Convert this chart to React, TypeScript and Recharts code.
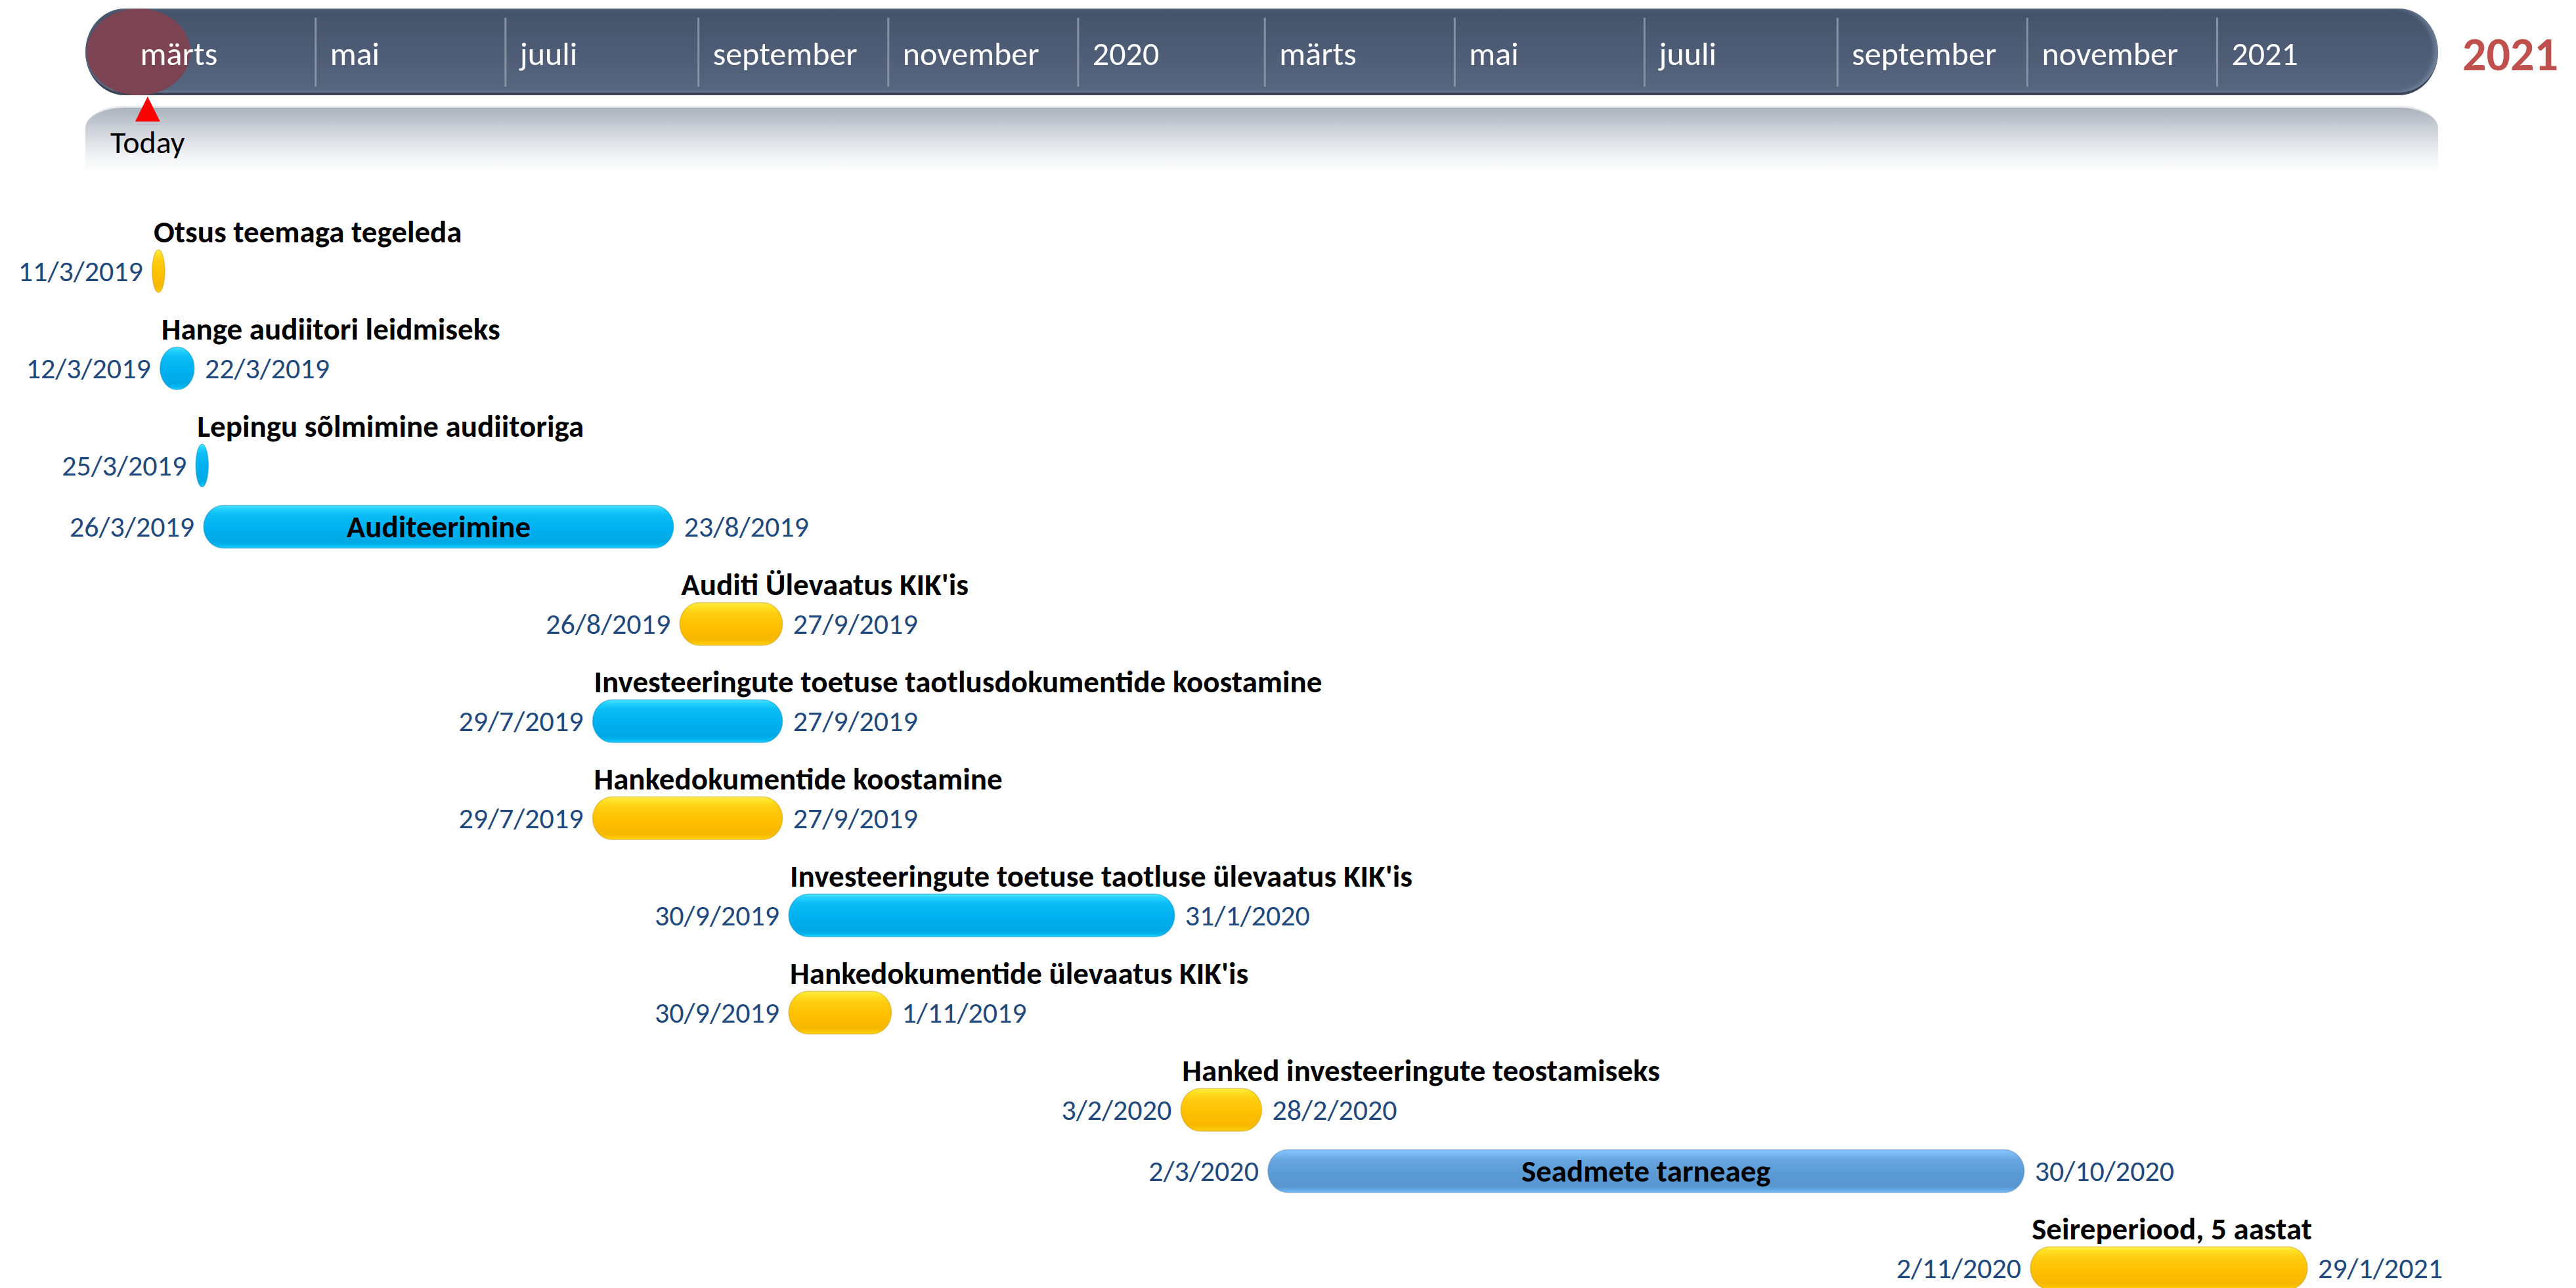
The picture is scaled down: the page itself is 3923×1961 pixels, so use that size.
import React from "react";
import { BarChart, Bar, XAxis, YAxis, ReferenceLine } from "recharts";

const TASK_NAMES = [
  "Otsus teemaga tegeleda",
  "Hange audiitori leidmiseks",
  "Lepingu sõlmimine audiitoriga",
  "Auditeerimine",
  "Auditi Ülevaatus KIK'is",
  "Investeeringute toetuse taotlusdokumentide koostamine",
  "Hankedokumentide koostamine",
  "Investeeringute toetuse taotluse ülevaatus KIK'is",
  "Hankedokumentide ülevaatus KIK'is",
  "Hanked investeeringute teostamiseks",
  "Seadmete tarneaeg",
  "Seireperiood, 5 aastat",
];
const TASK_STARTS = [
  "11/3/2019", "12/3/2019", "25/3/2019", "26/3/2019", "26/8/2019", "29/7/2019",
  "29/7/2019", "30/9/2019", "30/9/2019", "3/2/2020", "2/3/2020", "2/11/2020",
];
const TASK_ENDS = [
  "11/3/2019", "22/3/2019", "25/3/2019", "23/8/2019", "27/9/2019", "27/9/2019",
  "27/9/2019", "31/1/2020", "1/11/2019", "28/2/2020", "30/10/2020", "29/1/2021",
];
const TASK_KINDS = [
  "review", "work", "work", "work", "review", "work",
  "review", "work", "review", "review", "supply", "review",
];

const MONTH_TICKS = [
  "1/3/2019", "1/5/2019", "1/7/2019", "1/9/2019", "1/11/2019", "1/1/2020",
  "1/3/2020", "1/5/2020", "1/7/2020", "1/9/2020", "1/11/2020", "1/1/2021",
];
const MONTH_LABELS = [
  "märts", "mai", "juuli", "september", "november", "2020",
  "märts", "mai", "juuli", "september", "november", "2021",
];
const TODAY = "8/3/2019";
const RANGE_START = "16/2/2019";
const RANGE_END = "13/3/2021";
const END_YEAR = "2021";

// tasks whose name is written on the bar itself
const INSIDE_LABEL = new Set(["Auditeerimine", "Seadmete tarneaeg"]);

const FONT = "Carlito, 'Liberation Sans Narrow', 'Liberation Sans', Arial, sans-serif";
const W = 3923;
const H = 1961;
const LEFT = 130;
const RIGHT = 210;
const BAR_H = 65;
const MIN_W = 19;

const toDay = (s: string) => {
  const [d, m, y] = s.split("/").map(Number);
  return Date.UTC(y, m - 1, d) / 86400000;
};

const KIND_STYLE: Record<string, { stops: [number, string][]; edge: string }> = {
  work: {
    stops: [[0, "#52e4ff"], [0.08, "#25d2ff"], [0.22, "#0cbdf5"], [0.55, "#00b0f0"], [0.86, "#00a9e5"], [0.94, "#03b8f0"], [1, "#2ad4ff"]],
    edge: "#0089bf",
  },
  review: {
    stops: [[0, "#ffee55"], [0.08, "#ffe326"], [0.24, "#ffcd12"], [0.55, "#ffc000"], [0.86, "#f6b800"], [0.94, "#fcc400"], [1, "#ffd82a"]],
    edge: "#c49400",
  },
  supply: {
    stops: [[0, "#8ac8ff"], [0.08, "#7dbbf4"], [0.24, "#67a6e0"], [0.55, "#5b9bd5"], [0.86, "#5896d0"], [0.94, "#62a8e6"], [1, "#78bdfc"]],
    edge: "#4a7fb2",
  },
};

// lane step: a bare bar row, plus extra room when the name sits above the bar
let laneAcc = 0;
const rows = TASK_NAMES.map((name, i) => {
  if (i > 0) laneAcc += INSIDE_LABEL.has(name) ? 1 : 1 + 54.5 / 93;
  return {
    name,
    start: TASK_STARTS[i],
    end: TASK_ENDS[i],
    kind: TASK_KINDS[i],
    lane: laneAcc,
    range: [toDay(TASK_STARTS[i]), toDay(TASK_ENDS[i]) + 1],
  };
});
const MAX_LANE = laneAcc;
const MONTH_DAYS = MONTH_TICKS.map(toDay);

const MonthTick = (props: any) => {
  const { x, index } = props;
  return (
    <g>
      {index > 0 && <line x1={x} x2={x} y1={27} y2={132} stroke="#8592a6" strokeWidth={3} />}
      <text x={x + 22} y={81} fill="#ffffff" fontSize={50} fontFamily={FONT} dominantBaseline="central">
        {MONTH_LABELS[index]}
      </text>
    </g>
  );
};

const TodayMarker = (props: any) => {
  const x = props.x1;
  return (
    <g>
      <polygon points={`${x},147 ${x - 19},185 ${x + 19},185`} fill="#ff0000" />
      <text x={x} y={233} textAnchor="middle" fontSize={48} fontFamily={FONT} fill="#000">
        Today
      </text>
    </g>
  );
};

const TaskBar = (props: any) => {
  const { x, y, width, height } = props;
  const d = props.payload ?? props;
  const st = KIND_STYLE[d.kind];
  let bx = x;
  let bw = width;
  if (bw < MIN_W) {
    bx = x + bw / 2 - MIN_W / 2;
    bw = MIN_W;
  }
  const cy = y + height / 2;
  const rx = Math.min(bw / 2, 30);
  const gid = `grad-${d.kind}`;
  const inside = INSIDE_LABEL.has(d.name);
  return (
    <g>
      <defs>
        <linearGradient id={gid} x1="0" y1="0" x2="0" y2="1">
          {st.stops.map(([o, c]) => (
            <stop key={o} offset={o} stopColor={c} />
          ))}
        </linearGradient>
      </defs>
      <rect x={bx} y={y} width={bw} height={height} rx={rx} ry={height / 2} fill={`url(#${gid})`} stroke={st.edge} strokeOpacity={0.45} strokeWidth={1.5} />
      <text x={bx - 14} y={cy} textAnchor="end" dominantBaseline="central" fontSize={44} fontFamily={FONT} fill="#1f497d">
        {d.start}
      </text>
      {d.end !== d.start && (
        <text x={bx + bw + 16} y={cy} textAnchor="start" dominantBaseline="central" fontSize={44} fontFamily={FONT} fill="#1f497d">
          {d.end}
        </text>
      )}
      {inside ? (
        <text x={bx + bw / 2} y={cy} textAnchor="middle" dominantBaseline="central" fontSize={47} fontWeight="bold" fontFamily={FONT} fill="#000">
          {d.name}
        </text>
      ) : (
        <text x={bx + 2} y={cy - 60} textAnchor="start" dominantBaseline="central" fontSize={47} fontWeight="bold" fontFamily={FONT} fill="#000">
          {d.name}
        </text>
      )}
    </g>
  );
};

export default function App() {
  const plotW = W - LEFT - RIGHT;
  return (
    <div style={{ position: "absolute", left: 0, top: 0, width: W, height: H, background: "#fff", overflow: "hidden", fontFamily: FONT }}>
      {/* timeline header */}
      <div
        style={{
          position: "absolute", left: LEFT, top: 13, width: plotW, height: 128,
          borderRadius: "60px / 66px", borderBottom: "4px solid #3b4557",
          background: "linear-gradient(#44526a, #57677f)",
          boxShadow: "inset -6px 0 6px rgba(170,190,215,0.35)",
        }}
      />
      <div style={{ position: "absolute", left: 132, top: 13, width: 158, height: 132, borderRadius: "50%", background: "#7c4353" }} />
      <div
        style={{
          position: "absolute", left: LEFT, top: 161, width: plotW, height: 100,
          borderRadius: "60px 60px 0 0 / 34px 34px 0 0", borderTop: "3px solid #e6e8eb",
          background: "linear-gradient(#aab2bd 0%, #cfd4da 35%, #f3f4f6 75%, #ffffff 100%)",
        }}
      />
      <div style={{ position: "absolute", left: 3750, top: 40, height: 84, lineHeight: "84px", fontSize: 72, fontWeight: "bold", color: "#c0504d" }}>
        {END_YEAR}
      </div>
      <div style={{ position: "absolute", left: 0, top: 0 }}>
        <BarChart width={W} height={H} data={rows} layout="vertical" margin={{ top: 412, right: RIGHT, left: LEFT, bottom: 30 }}>
          <XAxis
            type="number"
            orientation="top"
            height={1}
            domain={[toDay(RANGE_START), toDay(RANGE_END)]}
            ticks={MONTH_DAYS}
            interval={0}
            axisLine={false}
            tickLine={false}
            tick={(p: any) => <MonthTick {...p} />}
          />
          <YAxis type="number" dataKey="lane" domain={[0, MAX_LANE]} hide />
          <ReferenceLine x={toDay(TODAY)} ifOverflow="visible" shape={(p: any) => <TodayMarker {...p} />} />
          <Bar dataKey="range" barSize={BAR_H} isAnimationActive={false} shape={(p: any) => <TaskBar {...p} />} />
        </BarChart>
      </div>
    </div>
  );
}
